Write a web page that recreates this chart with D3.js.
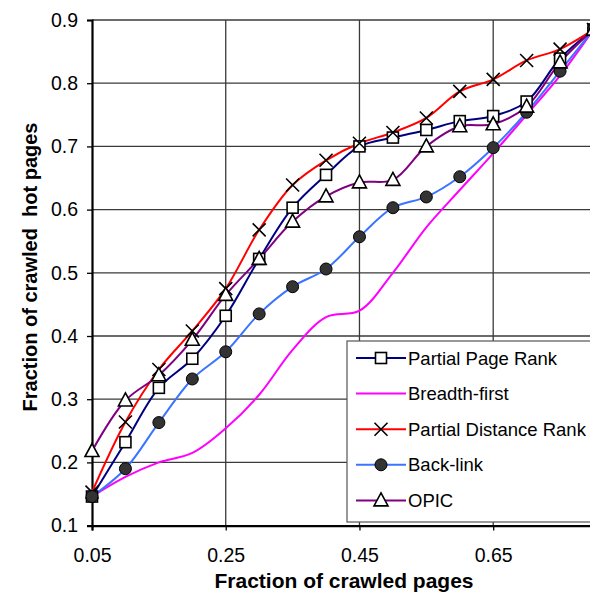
<!DOCTYPE html>
<html>
<head>
<meta charset="utf-8">
<script src="https://cdn.jsdelivr.net/npm/d3@7"></script>
<style>
  body { margin: 0; background: #fff; }
  svg { display: block; font-family: "Liberation Sans", Arial, sans-serif; }
</style>
</head>
<body>
<svg id="chart" width="590" height="594"></svg>
<script>
// fraction of crawled pages
var fractions = [0.05, 0.1, 0.15, 0.2, 0.25, 0.3, 0.35, 0.4, 0.45, 0.5, 0.55, 0.6, 0.65, 0.7, 0.75, 0.8];

var partialPageRank     = [0.146, 0.232, 0.318, 0.364, 0.432, 0.522, 0.603, 0.655, 0.700, 0.714, 0.726, 0.740, 0.748, 0.771, 0.839, 0.885];
var breadthFirst        = [0.146, 0.177, 0.200, 0.215, 0.254, 0.307, 0.378, 0.430, 0.440, 0.500, 0.572, 0.631, 0.689, 0.750, 0.812, 0.885];
var partialDistanceRank = [0.153, 0.264, 0.347, 0.408, 0.475, 0.568, 0.639, 0.678, 0.705, 0.722, 0.745, 0.787, 0.806, 0.836, 0.854, 0.885];
var backLink            = [0.146, 0.190, 0.263, 0.332, 0.375, 0.435, 0.478, 0.506, 0.557, 0.603, 0.620, 0.652, 0.698, 0.754, 0.819, 0.885];
var opic                = [0.218, 0.298, 0.338, 0.394, 0.465, 0.522, 0.581, 0.621, 0.643, 0.647, 0.700, 0.732, 0.735, 0.763, 0.833, 0.885];

var xTicks = [0.05, 0.25, 0.45, 0.65];
var yTicks = [0.1, 0.2, 0.3, 0.4, 0.5, 0.6, 0.7, 0.8, 0.9];

var series = [
    { name: "Partial Page Rank", values: partialPageRank, color: "#000080", marker: "square" },
    { name: "Breadth-first", values: breadthFirst, color: "#ff00ff", marker: null },
    { name: "Partial Distance Rank", values: partialDistanceRank, color: "#ff0000", marker: "cross" },
    { name: "Back-link", values: backLink, color: "#3a74ff", marker: "circle" },
    { name: "OPIC", values: opic, color: "#800080", marker: "triangle" }
];

var svg = d3.select("#chart");

var x = d3.scaleLinear().domain([0.05, 0.8]).range([92, 593.5]);
var y = d3.scaleLinear().domain([0.1, 0.9]).range([525.6, 20]);

// gridlines
svg.append("g")
    .selectAll("line")
    .data(yTicks.slice(1))
    .join("line")
    .attr("x1", x(0.05)).attr("x2", 594)
    .attr("y1", d => y(d)).attr("y2", d => y(d))
    .attr("stroke", "#3a3a3a")
    .attr("stroke-width", 1.3);

svg.append("g")
    .selectAll("line")
    .data(xTicks.slice(1))
    .join("line")
    .attr("x1", d => x(d)).attr("x2", d => x(d))
    .attr("y1", y(0.9)).attr("y2", y(0.1))
    .attr("stroke", "#3a3a3a")
    .attr("stroke-width", 1.3);

// axes
var xAxis = svg.append("g")
    .attr("transform", `translate(0,${y(0.1)})`)
    .call(d3.axisBottom(x).tickValues(xTicks).tickSize(5).tickFormat(d3.format(".2f")));
var yAxis = svg.append("g")
    .attr("transform", `translate(${x(0.05)},0)`)
    .call(d3.axisLeft(y).tickValues(yTicks).tickSize(5).tickFormat(d3.format(".1f")));

[xAxis, yAxis].forEach(a => {
    a.select(".domain").attr("stroke", "#000").attr("stroke-width", 2.2);
    a.selectAll(".tick line").attr("stroke", "#000").attr("stroke-width", 1.3);
    a.selectAll(".tick text")
        .attr("fill", "#000")
        .attr("font-size", 19.5)
        .attr("font-family", "Liberation Sans, Arial, sans-serif");
});
xAxis.selectAll(".tick text").attr("y", 0).attr("dy", 0).attr("transform", "translate(0,36)");
yAxis.selectAll(".tick text").attr("x", -14);

// lines
var line = d3.line()
    .x((d, i) => x(fractions[i]))
    .y(d => y(d))
    .curve(d3.curveCatmullRom.alpha(0.5));

var plot = svg.append("g");

plot.selectAll("path.series")
    .data(series)
    .join("path")
    .attr("class", "series")
    .attr("fill", "none")
    .attr("stroke", d => d.color)
    .attr("stroke-width", 2)
    .attr("d", d => line(d.values));

function drawMarker(g, type) {
    if (type === "square") {
        g.append("rect").attr("x", -5.5).attr("y", -5.5).attr("width", 11).attr("height", 11)
            .attr("fill", "#fff").attr("stroke", "#000").attr("stroke-width", 1.6);
    } else if (type === "cross") {
        g.append("path").attr("d", "M-6.5,-6.5L6.5,6.5M-6.5,6.5L6.5,-6.5")
            .attr("stroke", "#000").attr("stroke-width", 1.6);
    } else if (type === "circle") {
        g.append("circle").attr("r", 6)
            .attr("fill", "#333").attr("stroke", "#000").attr("stroke-width", 1);
    } else if (type === "triangle") {
        g.append("path").attr("d", "M0,-7.5L7,5.5L-7,5.5Z")
            .attr("fill", "#fff").attr("stroke", "#000").attr("stroke-width", 1.6);
    }
}

series.filter(s => s.marker).forEach(s => {
    plot.append("g")
        .selectAll("g")
        .data(s.values)
        .join("g")
        .attr("transform", (d, i) => `translate(${x(fractions[i])},${y(d)})`)
        .each(function () { drawMarker(d3.select(this), s.marker); });
});

// legend
var legend = svg.append("g").attr("transform", "translate(347,341)");
legend.append("rect")
    .attr("width", 246).attr("height", 181)
    .attr("fill", "#fff").attr("stroke", "#555").attr("stroke-width", 1.2);

var item = legend.selectAll("g.item")
    .data(series)
    .join("g")
    .attr("class", "item")
    .attr("transform", (d, i) => `translate(0,${17 + i * 35.6})`);

item.append("line")
    .attr("x1", 9).attr("x2", 59)
    .attr("stroke", d => d.color).attr("stroke-width", 2);
item.append("g")
    .attr("transform", "translate(34,0)")
    .each(function (d) { if (d.marker) drawMarker(d3.select(this), d.marker); });
item.append("text")
    .attr("x", 61).attr("dy", "0.36em")
    .attr("font-size", 18.5)
    .text(d => d.name);

// axis titles
svg.append("text")
    .attr("x", 344).attr("y", 588)
    .attr("text-anchor", "middle")
    .attr("font-size", 21).attr("font-weight", "bold")
    .text("Fraction of crawled pages");

svg.append("text")
    .attr("transform", "translate(37,267) rotate(-90)")
    .attr("text-anchor", "middle")
    .attr("font-size", 20).attr("font-weight", "bold")
    .attr("xml:space", "preserve")
    .style("white-space", "pre")
    .text("Fraction of crawled  hot pages");
</script>
</body>
</html>
